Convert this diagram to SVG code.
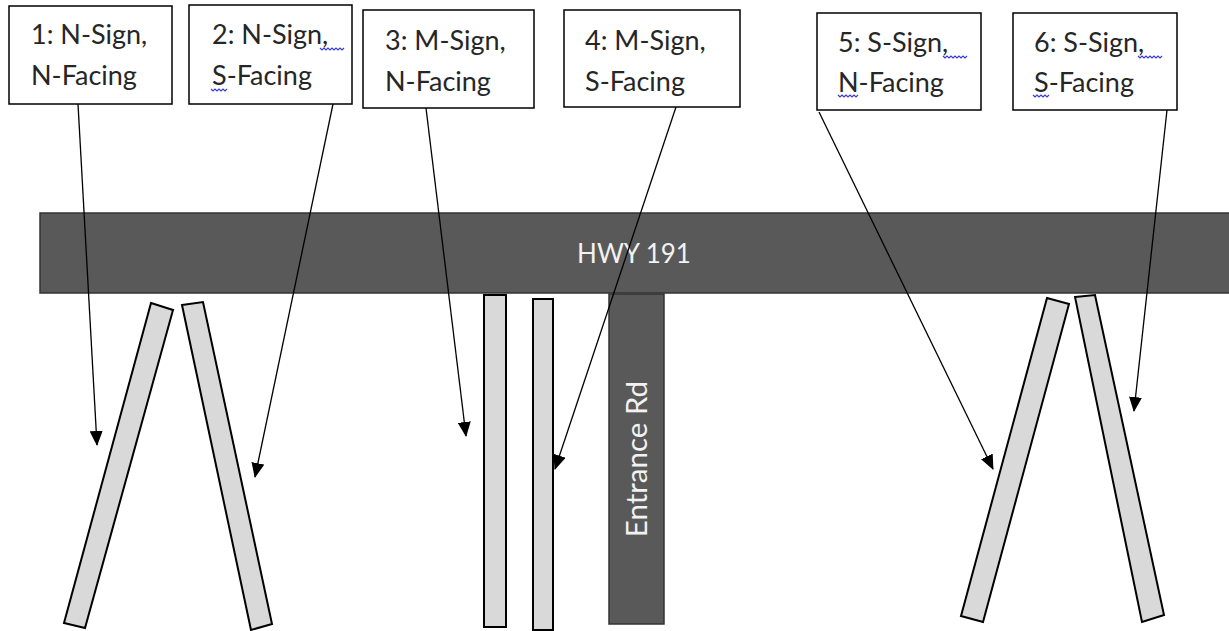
<svg xmlns="http://www.w3.org/2000/svg" width="1229" height="631" viewBox="0 0 1229 631">
<style>
.box{fill:#fff;stroke:#000;stroke-width:1.5}
.lbl{font-family:Lato,"Liberation Sans",sans-serif;font-size:27px;fill:#262626}
.road{fill:#595959;stroke:#333;stroke-width:1.5}
.rtxt{font-family:Lato,"Liberation Sans",sans-serif;font-size:26px;fill:#f2f2f2}
.vtxt{font-size:29.5px}
.sign{fill:#d9d9d9;stroke:#000;stroke-width:2}
.conn{stroke:#000;stroke-width:1.3;fill:none;marker-end:url(#ah)}
.sq{stroke:#3b3bd6;stroke-width:1.2;fill:none}
</style>
<defs>
<marker id="ah" viewBox="0 0 15 13" refX="14" refY="6.5" markerWidth="15" markerHeight="13" markerUnits="userSpaceOnUse" orient="auto">
<path d="M0,0 L15,6.5 L0,13 Z" fill="#000"/>
</marker>
</defs>
<rect width="1229" height="631" fill="#fff"/>
<g id="highway">
<rect class="road" x="40" y="213" width="1200" height="80"/>
<text class="rtxt" x="634" y="263" text-anchor="middle">HWY 191</text>
</g>
<g id="entrance-rd">
<rect class="road" x="609" y="294" width="55" height="330"/>
<text class="rtxt vtxt" transform="translate(647,459) rotate(-90)" text-anchor="middle">Entrance Rd</text>
</g>
<g id="sign-1"><polygon class="sign" points="151,303 173,310 85,628 64,623"/></g>
<g id="sign-2"><polygon class="sign" points="182,305 203,302 272,624 251,630"/></g>
<g id="sign-3"><rect class="sign" x="484" y="295" width="22" height="332"/></g>
<g id="sign-4"><rect class="sign" x="533" y="299" width="20" height="331"/></g>
<g id="sign-5"><polygon class="sign" points="1047,298 1069,304 983,622 961,616"/></g>
<g id="sign-6"><polygon class="sign" points="1075,297 1095,295 1164,615 1142,622"/></g>
<g id="connectors">
<line class="conn" x1="78" y1="104" x2="97" y2="445"/>
<line class="conn" x1="333" y1="104" x2="255" y2="477"/>
<line class="conn" x1="426" y1="108" x2="466" y2="436"/>
<line class="conn" x1="676" y1="107" x2="555" y2="469"/>
<line class="conn" x1="819" y1="112" x2="993" y2="469"/>
<line class="conn" x1="1167" y1="110" x2="1134" y2="411"/>
</g>
<g id="label-1">
<rect class="box" x="9" y="6" width="163" height="98"/>
<text class="lbl" x="31" y="44">1: N-Sign,</text>
<text class="lbl" x="31" y="85">N-Facing</text>
</g>
<g id="label-2">
<rect class="box" x="189" y="5" width="163" height="99"/>
<text class="lbl" x="212" y="44">2: N-Sign,</text>
<text class="lbl" x="212" y="85">S-Facing</text>
<path class="sq" d="M320,48 l2,2 l2,-2 l2,2 l2,-2 l2,2 l2,-2 l2,2 l2,-2 l2,2 l2,-2 l2,2 l2,-2"/>
<path class="sq" d="M211,89 l2,2 l2,-2 l2,2 l2,-2 l2,2 l2,-2 l2,2 l2,-2"/>
</g>
<g id="label-3">
<rect class="box" x="363" y="10" width="171" height="98"/>
<text class="lbl" x="385" y="50">3: M-Sign,</text>
<text class="lbl" x="385" y="91">N-Facing</text>
</g>
<g id="label-4">
<rect class="box" x="564" y="10" width="176" height="97"/>
<text class="lbl" x="585" y="50">4: M-Sign,</text>
<text class="lbl" x="585" y="91">S-Facing</text>
</g>
<g id="label-5">
<rect class="box" x="817" y="13" width="164" height="97"/>
<text class="lbl" x="838" y="52">5: S-Sign,</text>
<text class="lbl" x="838" y="92">N-Facing</text>
<path class="sq" d="M943,56 l2,2 l2,-2 l2,2 l2,-2 l2,2 l2,-2 l2,2 l2,-2 l2,2 l2,-2 l2,2 l2,-2"/>
<path class="sq" d="M838,95 l2,2 l2,-2 l2,2 l2,-2 l2,2 l2,-2 l2,2 l2,-2 l2,2 l2,-2"/>
</g>
<g id="label-6">
<rect class="box" x="1013" y="13" width="164" height="97"/>
<text class="lbl" x="1034" y="52">6: S-Sign,</text>
<text class="lbl" x="1034" y="92">S-Facing</text>
<path class="sq" d="M1138,56 l2,2 l2,-2 l2,2 l2,-2 l2,2 l2,-2 l2,2 l2,-2 l2,2 l2,-2 l2,2 l2,-2"/>
<path class="sq" d="M1033,95 l2,2 l2,-2 l2,2 l2,-2 l2,2 l2,-2 l2,2 l2,-2"/>
</g>
</svg>
